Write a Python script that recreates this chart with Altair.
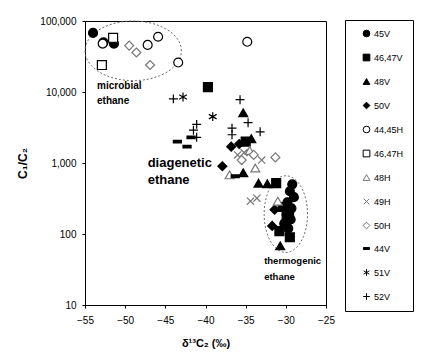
import altair as alt
import pandas as pd
import numpy as np

series = ["45V", "46,47V", "48V", "50V", "44,45H", "46,47H", "48H", "49H", "50H", "44V", "51V", "52V"]

x_45V = [-54.0, -52.7, -51.4, -29.2, -29.5, -29.0, -29.8, -29.3, -29.9, -29.4, -30.2, -29.7]
y_45V = [68000, 50000, 48000, 500, 400, 330, 280, 230, 190, 160, 140, 120]
x_4647V = [-39.7, -35.0, -31.2, -29.5, -30.4, -29.9, -30.8, -29.6]
y_4647V = [11700, 2000, 520, 90, 240, 170, 110, 210]
x_48V = [-35.3, -34.3, -35.3, -33.4, -32.3, -30.7]
y_48V = [5100, 2200, 730, 520, 510, 68]
x_50V = [-36.8, -35.8, -37.9, -31.4, -31.7]
y_50V = [1700, 1850, 900, 220, 130]
x_4445H = [-52.8, -47.2, -45.9, -43.4, -34.8]
y_4445H = [48000, 46000, 60000, 26000, 51000]
x_4647H = [-51.5, -52.9]
y_4647H = [58000, 24000]
x_48H = [-33.8, -37.0, -31.0, -34.5]
y_48H = [850, 680, 290, 1500]
x_49H = [-34.4, -33.6, -35.2, -33.0, -36.0]
y_49H = [290, 320, 1400, 1100, 1300]
x_50H = [-49.5, -48.6, -46.9, -31.3, -34.0, -35.5]
y_50H = [45000, 36000, 24000, 1200, 1300, 1100]
x_44V = [-43.5, -42.3, -36.3, -41.8]
y_44V = [2000, 1700, 650, 2300]
x_51V = [-42.8, -39.1]
y_51V = [8500, 4500]
x_52V = [-44.0, -41.1, -41.5, -41.1, -35.7, -36.7, -36.7, -33.2, -34.7]
y_52V = [8000, 3500, 2900, 2300, 7800, 3100, 2500, 2750, 3700]

xs = [x_45V, x_4647V, x_48V, x_50V, x_4445H, x_4647H, x_48H, x_49H, x_50H, x_44V, x_51V, x_52V]
ys = [y_45V, y_4647V, y_48V, y_50V, y_4445H, y_4647H, y_48H, y_49H, y_50H, y_44V, y_51V, y_52V]

shapes = ["circle", "square", "triangle-up", "diamond", "circle", "square", "triangle-up",
          "M-0.8,-0.8L0.8,0.8M-0.8,0.8L0.8,-0.8", "diamond",
          "M-0.9,-0.3L0.9,-0.3L0.9,0.3L-0.9,0.3Z",
          "M0,-1L0,1M-0.87,-0.5L0.87,0.5M-0.87,0.5L0.87,-0.5",
          "M-1,0L1,0M0,-1L0,1"]
fills = ["black", "black", "black", "black", "white", "white", "white", "transparent", "white",
         "black", "transparent", "transparent"]
strokes = ["black", "black", "black", "black", "black", "black", "#777777", "#777777", "#777777",
           "black", "black", "black"]

# Annotation ellipses (center x, center log10 y, radius x, radius in decades)
ell_name = ["microbial", "thermogenic"]
ell_cx = [-49.0, -30.0]
ell_cy = [4.58, 2.28]
ell_rx = [6.0, 2.7]
ell_ry = [0.42, 0.54]

labels_text = ["microbial", "ethane", "diagenetic", "ethane", "thermogenic", "ethane"]
labels_x = [-53.5, -53.5, -47.2, -47.2, -32.7, -32.7]
labels_y = [12200, 7500, 1010, 585, 41, 25]
labels_size = [10, 10, 13, 13, 9.5, 9.5]

rows = []
for s, xl, yl in zip(series, xs, ys):
    for a, b in zip(xl, yl):
        rows.append({"series": s, "x": a, "y": b})
pts = pd.DataFrame(rows)

erows = []
t = np.linspace(0, 2 * np.pi, 121)
for n, cx, cy, rx, ry in zip(ell_name, ell_cx, ell_cy, ell_rx, ell_ry):
    for i, tt in enumerate(t):
        erows.append({"e": n, "o": i, "x": cx + rx * np.cos(tt), "y": 10 ** (cy + ry * np.sin(tt))})
ell = pd.DataFrame(erows)

lab = pd.DataFrame({"t": labels_text, "x": labels_x, "y": labels_y, "s": labels_size})

xscale = alt.Scale(domain=[-55, -25], nice=False)
yscale = alt.Scale(type="log", domain=[10, 100000], nice=False)

xaxis = alt.Axis(values=[-55, -50, -45, -40, -35, -30, -25], title="δ¹³C₂ (‰)", tickSize=3,
                 labelPadding=7, titlePadding=12, labelFlush=False)
yaxis = alt.Axis(values=[10, 100, 1000, 10000, 100000], format=",", title="C₁/C₂", tickSize=3,
                 labelPadding=6, titlePadding=10, titleFontSize=12)

leg = alt.Legend(title=None, orient="none", legendX=260, legendY=-1, padding=9,
                 strokeColor="black", fillColor="white", labelFont="Liberation Sans",
                 labelFontSize=9, labelColor="black", symbolSize=45, rowPadding=13,
                 symbolStrokeWidth=1, labelOffset=3, symbolOffset=8,
                 labelExpr="datum.label + '    '")

points = alt.Chart(pts).mark_point(size=80, strokeWidth=1.2, opacity=1).encode(
    x=alt.X("x:Q", scale=xscale, axis=xaxis),
    y=alt.Y("y:Q", scale=yscale, axis=yaxis),
    shape=alt.Shape("series:N", scale=alt.Scale(domain=series, range=shapes), legend=leg),
    fill=alt.Fill("series:N", scale=alt.Scale(domain=series, range=fills), legend=leg),
    stroke=alt.Stroke("series:N", scale=alt.Scale(domain=series, range=strokes), legend=leg),
)

ellipses = alt.Chart(ell).mark_line(stroke="#666666", strokeWidth=1, strokeDash=[2, 2]).encode(
    x=alt.X("x:Q", scale=xscale),
    y=alt.Y("y:Q", scale=yscale),
    detail="e:N",
    order="o:Q",
)

texts = alt.Chart(lab).mark_text(align="left", baseline="middle", fontWeight="bold",
                                 font="Liberation Sans", color="black").encode(
    x=alt.X("x:Q", scale=xscale),
    y=alt.Y("y:Q", scale=yscale),
    text="t:N",
    size=alt.Size("s:Q", scale=None, legend=None),
)

chart = alt.layer(ellipses, points, texts).properties(
    width=241, height=284,
    autosize=alt.AutoSizeParams(type="none"),
    padding={"left": 77, "top": 13, "right": 93, "bottom": 44},
).configure_view(stroke="black", strokeWidth=1).configure_axis(
    grid=False, domainColor="black", tickColor="black", labelColor="black",
    labelFont="Liberation Sans", labelFontSize=10, titleFont="Liberation Sans",
    titleFontSize=11, titleFontWeight="bold", titleColor="black"
)

chart.save("out.html", embed_options={"renderer": "svg", "actions": False})
